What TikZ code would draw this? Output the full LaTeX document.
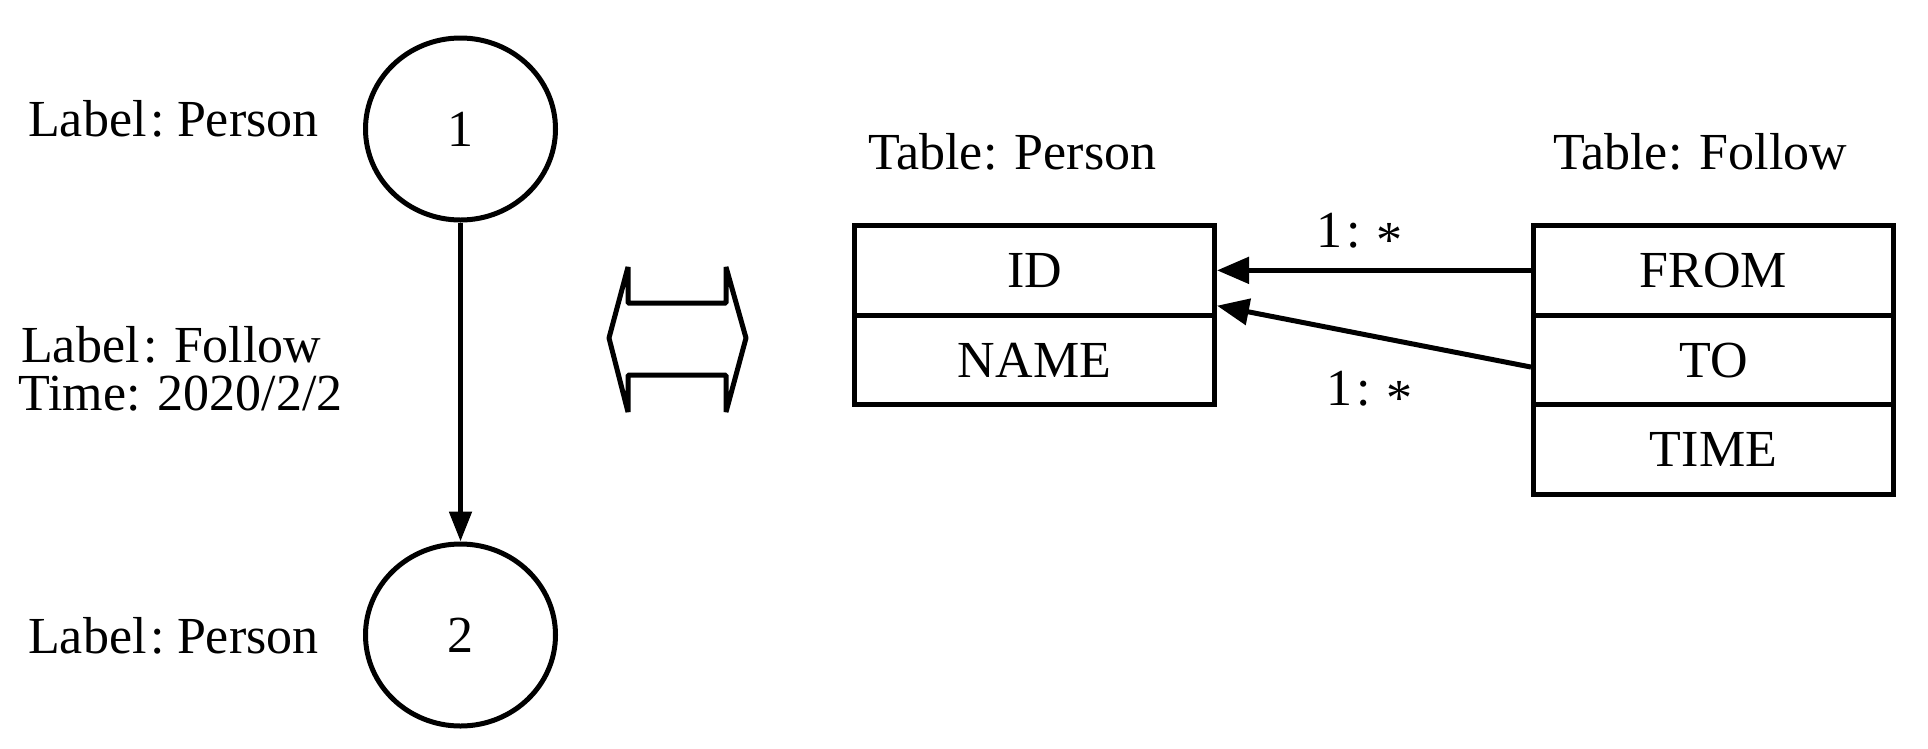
\RequirePackage{fix-cm}
\documentclass[tikz,border=0pt]{standalone}
\usepackage{fontspec}
\setmainfont{Liberation Serif}
\usetikzlibrary{arrows.meta,shapes.geometric,calc}
\tikzset{
  txt/.style={font=\fontsize{52}{62}\selectfont, inner sep=0pt},
  vertex/.style={ellipse, draw, line width=5pt, minimum width=190pt, minimum height=182pt, inner sep=0pt, txt},
  cell/.style={rectangle, draw, line width=5pt, minimum width=360pt, minimum height=89.7pt, inner sep=0pt, txt},
  link/.style={line width=5pt, -{Triangle[length=32pt,width=26pt]}},
  vlink/.style={line width=5pt, -{Triangle[length=30pt,width=22pt]}},
  biarrow/.style={line width=5pt, line join=bevel},
}
\newcommand{\myast}{\raisebox{-0.2em}{*}}
\begin{document}
\begin{tikzpicture}[x=1pt,y=-1pt]
\useasboundingbox (0,0) rectangle (1928,748);
% graph side
\node[vertex] (c1) at (460.5,129) {1};
\node[vertex] (c2) at (460.5,635) {2};
\draw[vlink] (c1) -- (c2);
\node[txt, anchor=base west] (l1) at (28,136) {Label\kern4pt:\kern12pt Person};
\node[txt, anchor=base west] (l2) at (21,362) {Label\kern4pt:\kern16pt Follow};
\node[txt, anchor=base west] (l3) at (18,410) {Time: 2020/2/2};
\node[txt, anchor=base west] (l4) at (28,653) {Label\kern4pt:\kern12pt Person};
% double arrow
\draw[biarrow] (609,338) -- (628,267) -- (628,303) -- (726,303) -- (726,267)
  -- (746,338) -- (726,412) -- (726,375) -- (628,375) -- (628,412) -- cycle;
% tables
\node[txt, anchor=base west] (tp) at (868,169) {Table: Person};
\node[txt, anchor=base west] (tf) at (1553,169) {Table: Follow};
\node[cell] (p1) at (1034.5,270.35) {ID};
\node[cell] (p2) at (1034.5,360.05) {NAME};
\node[cell] (f1) at (1713.5,270.35) {FROM};
\node[cell] (f2) at (1713.5,360.05) {TO};
\node[cell] (f3) at (1713.5,449.75) {TIME};
\draw[link] (f1.west) -- (p1.east);
\draw[link] ($(f2.west)+(0,7)$) -- ($(p1.south east)+(0,-12)$);
\node[txt, anchor=base west] (m1) at (1316,247) {1\kern4pt:\kern16pt\myast};
\node[txt, anchor=base west] (m2) at (1326,405) {1\kern4pt:\kern16pt\myast};
\end{tikzpicture}
\end{document}
